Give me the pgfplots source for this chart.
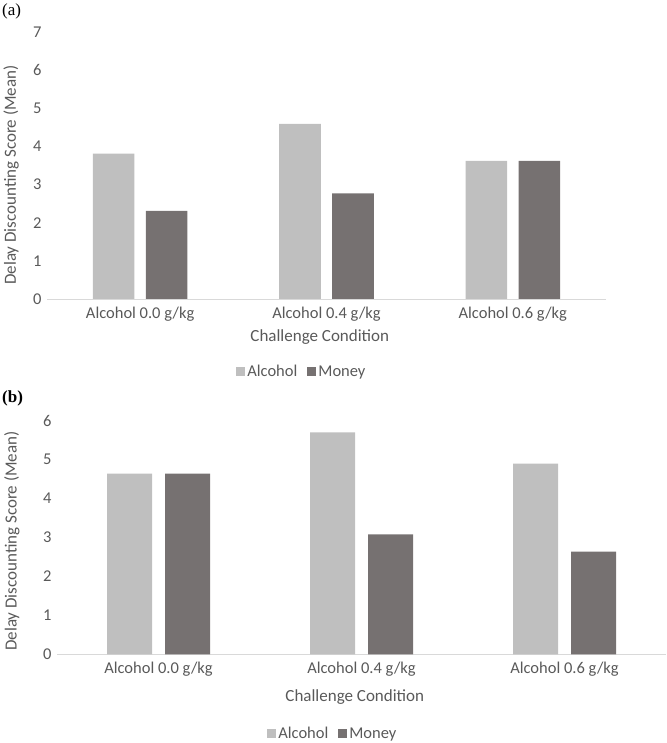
\documentclass[border=0pt]{standalone}
\usepackage{pgfplots}
\pgfplotsset{compat=1.18}
\usepackage{fontspec}
\setmainfont{Carlito}
\newfontfamily\tnr{Liberation Serif}
\definecolor{TextGray}{RGB}{89,89,89}
\definecolor{AxisGray}{RGB}{217,217,217}
\definecolor{AlcoholGray}{RGB}{191,191,191}
\definecolor{MoneyGray}{RGB}{118,113,113}

\pgfplotsset{
  excelbars/.style={
    scale only axis,
    ybar,
    xmin=-0.5, xmax=2.5, ymin=0,
    enlargelimits=false,
    axis x line*=bottom, axis y line*=left,
    x axis line style={draw=AxisGray, line width=0.9pt},
    y axis line style={draw=none},
    tick style={draw=none},
    xtick=data,
    xticklabels={Alcohol 0.0 g/kg, Alcohol 0.4 g/kg, Alcohol 0.6 g/kg},
    ticklabel style={font=\fontsize{16.5}{19}\selectfont, text=TextGray},
    yticklabel style={xshift=-2pt},
    xticklabel style={yshift=0pt},
    xlabel={Challenge Condition},
    ylabel={Delay Discounting Score (Mean)},
    label style={font=\fontsize{17}{20}\selectfont, text=TextGray},
    legend columns=2,
    legend style={draw=none, fill=none, font=\fontsize{16.5}{19}\selectfont, text=TextGray,
      /tikz/every even column/.append style={column sep=8pt}},
    legend image code/.code={\fill[#1] (0pt,-4.5pt) rectangle (9pt,4.5pt);},
    /pgf/number format/assume math mode=true,
    clip=false,
  },
}

\begin{document}
\begin{tikzpicture}
\useasboundingbox (0pt,0pt) rectangle (666pt,743pt);

% (a)
\node[anchor=north west, inner sep=0pt, font=\tnr\fontsize{17}{19}\selectfont] at (2pt,739pt) {(a)};
\begin{axis}[excelbars,
  at={(47pt,444pt)}, anchor=south west,
  width=559pt, height=267pt,
  ymax=7, ytick={0,1,...,7},
  bar width=41.6pt,
  xlabel style={at={(axis description cs:0.488,-0.142)}, anchor=center},
  ylabel style={at={(axis description cs:-0.064,0.464)}, anchor=center},
  legend style={at={(0.456,-0.273)}, anchor=center},
  ]
  \addplot[fill=AlcoholGray, draw=none, bar shift=-26.5pt] coordinates {(0,3.81) (1,4.59) (2,3.62)};
  \addplot[fill=MoneyGray, draw=none, bar shift=26.5pt] coordinates {(0,2.31) (1,2.77) (2,3.62)};
  \legend{Alcohol, Money}
\end{axis}

% (b)
\node[anchor=north west, inner sep=0pt, font=\tnr\bfseries\fontsize{17}{19}\selectfont] at (2pt,352pt) {(b)};
\begin{axis}[excelbars,
  at={(57pt,88.7pt)}, anchor=south west,
  width=609pt, height=233.6pt,
  ymax=6, ytick={0,1,...,6},
  bar width=45pt,
  xlabel style={at={(axis description cs:0.489,-0.183)}, anchor=center},
  ylabel style={at={(axis description cs:-0.074,0.485)}, anchor=center},
  legend style={at={(0.453,-0.341)}, anchor=center},
  ]
  \addplot[fill=AlcoholGray, draw=none, bar shift=-29pt] coordinates {(0,4.64) (1,5.70) (2,4.90)};
  \addplot[fill=MoneyGray, draw=none, bar shift=29pt] coordinates {(0,4.64) (1,3.08) (2,2.64)};
  \legend{Alcohol, Money}
\end{axis}
\end{tikzpicture}
\end{document}
